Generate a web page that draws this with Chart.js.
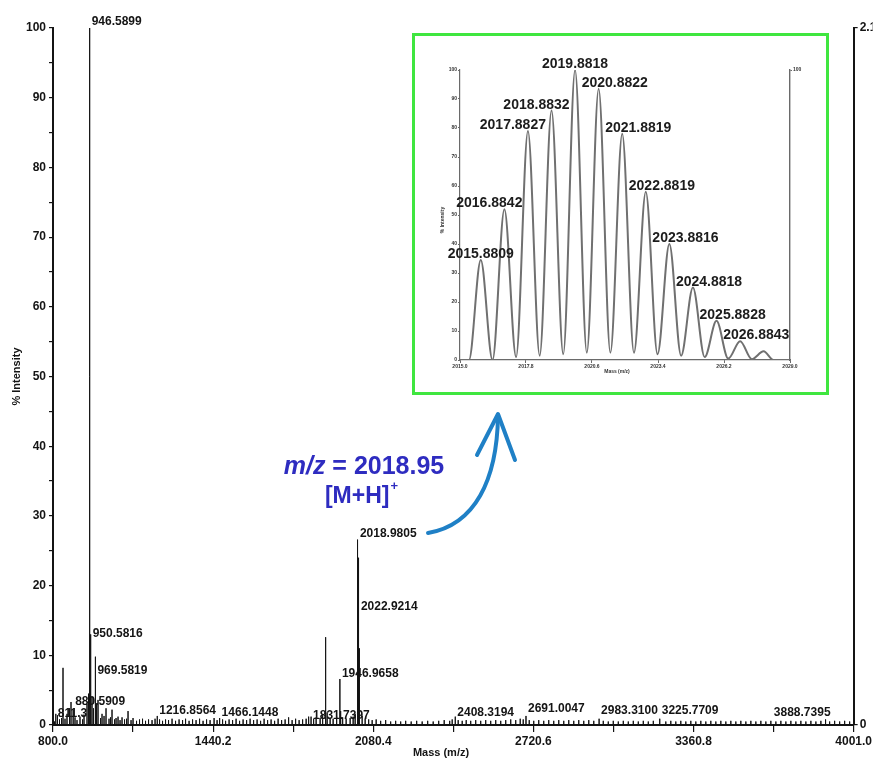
<!DOCTYPE html>
<html>
<head>
<meta charset="utf-8">
<style>
html,body{margin:0;padding:0;background:#fff;}
#wrap{position:relative;width:874px;height:761px;overflow:hidden;background:#fff;}
#main{position:absolute;left:0;top:0;}
#box{position:absolute;left:412px;top:33px;width:417px;height:362px;box-sizing:border-box;border:3px solid #3fe63f;background:#fff;}
#inset{position:absolute;left:0;top:0;}
</style>
<script src="https://cdn.jsdelivr.net/npm/chart.js@4/dist/chart.umd.min.js"></script>
</head>
<body>
<div id="wrap">
  <canvas id="main" width="874" height="761"></canvas>
  <div id="box"><canvas id="inset" width="411" height="356"></canvas></div>
</div>
<script>
// ---------------- DATA ----------------
const mainXTicks = [800.0, 1440.2, 2080.4, 2720.6, 3360.8, 4001.0];
const mainXMinorTicks = [1120.1, 1760.3, 2400.5, 3040.7, 3680.9];
const mainYTicks = [0, 10, 20, 30, 40, 50, 60, 70, 80, 90, 100];
const mainYMinorTicks = [5, 15, 25, 35, 45, 55, 65, 75, 85, 95];
const rightAxisLabels = ['0', '2.1E+4'];

// [m/z, % intensity]
const majorPeaks = [
  [811.3,1.6],[840,8.2],[872,3.3],[880.59,2.2],[936,3.0],[942,4.5],[946.59,100],[950.58,13],
  [956,4.0],[962,2.4],[969.58,9.8],[974,3.0],[980,3.6],[996,1.6],[1012,2.4],[1036,2.2],
  [1060,1.2],[1100,2.0],[1216.86,1.3],[1466.14,1.0],[1831.74,1.2],[1890,12.6],[1896,1.8],
  [1946.97,6.6],[1950,2.0],[2015.9,9],[2016.9,14],[2017.9,21],[2018.98,26.6],[2019.9,24],
  [2020.9,22],[2021.9,19],[2022.92,16],[2023.9,11],[2024.9,7],[2025.9,3.5],
  [2408.32,1.2],[2691.0,1.3],[2983.31,0.9],[3225.77,0.9],[3888.74,0.8]
];
const noisePeaks = [
  [806,0.5],[818,1.4],[826,0.8],[834,1.0],[848,0.9],[856,1.6],[866,2.4],[888,1.1],[896,0.7],[908,1.2],[918,0.8],[924,1.5],
  [990,1.0],[1004,1.3],[1024,0.9],[1030,1.1],[1046,0.8],[1052,1.0],[1068,0.7],[1076,1.1],[1086,0.8],[1094,0.9],[1112,0.7],
  [1120,1.0],[1134,0.6],[1146,0.8],[1158,0.9],[1170,0.6],[1182,0.8],[1196,0.7],[1208,0.9],[1226,0.8],[1238,0.6],[1250,0.8],
  [1262,0.7],[1276,0.9],[1290,0.6],[1304,0.8],[1318,0.7],[1330,0.9],[1344,0.6],[1358,0.8],[1372,0.7],[1386,0.9],[1400,0.6],
  [1414,0.8],[1428,0.7],[1444,1.0],[1456,0.7],[1478,0.8],[1490,0.6],[1504,0.8],[1518,0.7],[1532,0.9],[1546,0.6],[1560,0.8],
  [1574,0.7],[1588,0.9],[1602,0.7],[1616,0.8],[1630,0.6],[1644,0.9],[1658,0.7],[1672,0.8],[1686,0.6],[1700,0.9],[1714,0.7],
  [1728,0.8],[1742,1.1],[1756,0.7],[1770,0.9],[1784,0.7],[1798,0.8],[1812,0.9],[1822,1.2],[1842,0.9],[1852,1.1],[1868,1.0],
  [1878,1.4],[1908,1.0],[1920,0.9],[1934,1.2],[1958,1.1],[1972,0.9],[1988,1.0],[2000,1.2],[2008,1.6],[2036,1.3],[2048,0.9],
  [2062,0.8],[2076,0.7],[2092,0.8],[2110,0.6],[2130,0.7],[2150,0.5],[2170,0.6],[2190,0.5],[2210,0.6],[2232,0.5],[2254,0.6],
  [2276,0.5],[2298,0.6],[2320,0.5],[2342,0.6],[2364,0.7],[2386,0.6],[2396,0.8],[2420,0.7],[2436,0.6],[2452,0.7],[2470,0.6],
  [2490,0.7],[2510,0.6],[2530,0.7],[2550,0.6],[2570,0.7],[2590,0.6],[2610,0.7],[2630,0.8],[2650,0.7],[2668,0.9],[2680,0.8],
  [2704,0.7],[2722,0.6],[2742,0.7],[2762,0.6],[2782,0.7],[2802,0.6],[2822,0.7],[2842,0.6],[2862,0.7],[2882,0.6],[2902,0.7],
  [2922,0.6],[2942,0.7],[2962,0.6],[3000,0.6],[3020,0.5],[3040,0.6],[3060,0.5],[3080,0.6],[3100,0.5],[3120,0.6],[3140,0.5],
  [3160,0.6],[3180,0.5],[3200,0.6],[3250,0.5],[3270,0.6],[3290,0.5],[3310,0.6],[3330,0.5],[3350,0.6],[3370,0.5],[3390,0.6],
  [3410,0.5],[3430,0.6],[3450,0.5],[3470,0.6],[3490,0.5],[3510,0.6],[3530,0.5],[3550,0.6],[3570,0.5],[3590,0.6],[3610,0.5],
  [3630,0.6],[3650,0.5],[3670,0.6],[3690,0.5],[3710,0.6],[3730,0.5],[3750,0.6],[3770,0.5],[3790,0.6],[3810,0.5],[3830,0.6],
  [3850,0.5],[3870,0.6],[3905,0.5],[3925,0.6],[3945,0.5],[3965,0.6],[3985,0.5]
];

const peakLabelMz    = [946.5899, 950.5816, 969.5819, 880.5909, 811.3, 1216.8564, 1466.1448, 1831.7397, 1946.9658, 2018.9805, 2022.9214, 2408.3194, 2691.0047, 2983.3100, 3225.7709, 3888.7395];
const peakLabelText  = ['946.5899','950.5816','969.5819','880.5909','811.3','1216.8564','1466.1448','1831.7397','1946.9658','2018.9805','2022.9214','2408.3194','2691.0047','2983.3100','3225.7709','3888.7395'];
const peakLabelLevel = [100.9, 13.1, 7.8, 3.4, 1.6, 2.0, 1.7, 1.4, 7.3, 27.4, 17.0, 1.7, 2.4, 2.0, 2.0, 1.7];

// inset (isotope pattern of [M+H]+)
const insetXTicks = [2015.0, 2017.8, 2020.6, 2023.4, 2026.2, 2029.0];
const insetYTicks = [0, 10, 20, 30, 40, 50, 60, 70, 80, 90, 100];
const insetPeakMz  = [2015.8809, 2016.8842, 2017.8827, 2018.8832, 2019.8818, 2020.8822, 2021.8819, 2022.8819, 2023.8816, 2024.8818, 2025.8828, 2026.8843, 2027.88];
const insetPeakInt = [34.5, 52, 79, 86, 100, 93.5, 78, 58, 40, 25, 13.5, 6.5, 3];
const insetValleyMz  = [2015.0, 2015.38, 2016.38, 2017.38, 2018.38, 2019.38, 2020.38, 2021.38, 2022.38, 2023.38, 2024.38, 2025.38, 2026.38, 2027.38, 2028.3, 2029.0];
const insetValleyInt = [0, 0, 0, 1, 1.5, 2, 2.5, 2.5, 2.5, 2, 1.5, 1, 0.5, 0.3, 0, 0];
const insetLabelText = ['2015.8809','2016.8842','2017.8827','2018.8832','2019.8818','2020.8822','2021.8819','2022.8819','2023.8816','2024.8818','2025.8828','2026.8843'];

// ---------------- BUILD ----------------
const FONT = '"Liberation Sans", Arial, sans-serif';
const INK = '#141414';

const sticks = majorPeaks.concat(noisePeaks).sort((a, b) => a[0] - b[0]);
const stickPts = [];
sticks.forEach(p => { stickPts.push({x: p[0], y: 0}, {x: p[0], y: p[1]}, {x: p[0], y: 0}); });

const mainPlugin = {
  id: 'mainDeco',
  afterDatasetsDraw(chart) {
    const {ctx, chartArea} = chart;
    const xs = chart.scales.x, ys = chart.scales.y;
    ctx.save();
    ctx.fillStyle = INK;
    ctx.font = 'bold 12px ' + FONT;
    ctx.textBaseline = 'middle';
    peakLabelMz.forEach((m, i) => {
      const px = xs.getPixelForValue(m), py = ys.getPixelForValue(peakLabelLevel[i]);
      const t = peakLabelText[i];
      const w = ctx.measureText(t).width;
      if (px + w > chartArea.right - 25) { ctx.textAlign = 'right'; ctx.fillText(t, px + 5, py); }
      else { ctx.textAlign = 'left'; ctx.fillText(t, px + 2, py); }
    });
    // x-axis title
    ctx.font = 'bold 11px ' + FONT;
    ctx.textAlign = 'center';
    ctx.fillText('Mass (m/z)', 441, 753);

    // annotation text
    ctx.fillStyle = '#2e2cc0';
    ctx.textAlign = 'left';
    ctx.font = 'italic bold 25px ' + FONT;
    const w1 = ctx.measureText('m/z').width;
    ctx.font = 'bold 25px ' + FONT;
    const w2 = ctx.measureText(' = 2018.95').width;
    let sx = 364 - (w1 + w2) / 2;
    ctx.font = 'italic bold 25px ' + FONT;
    ctx.fillText('m/z', sx, 467);
    ctx.font = 'bold 25px ' + FONT;
    ctx.fillText(' = 2018.95', sx + w1, 467);
    ctx.font = 'bold 23px ' + FONT;
    const w3 = ctx.measureText('[M+H]').width;
    ctx.font = 'bold 13px ' + FONT;
    const w4 = ctx.measureText('+').width;
    sx = 361 - (w3 + w4) / 2;
    ctx.font = 'bold 23px ' + FONT;
    ctx.fillText('[M+H]', sx, 497);
    ctx.font = 'bold 13px ' + FONT;
    ctx.fillText('+', sx + w3 + 1, 486);

    // arrow
    ctx.strokeStyle = '#1f80c6';
    ctx.lineWidth = 4;
    ctx.lineCap = 'round';
    ctx.lineJoin = 'round';
    ctx.beginPath();
    ctx.moveTo(428, 533);
    ctx.bezierCurveTo(475, 525, 497, 480, 498, 416);
    ctx.stroke();
    ctx.beginPath();
    ctx.moveTo(477, 455);
    ctx.lineTo(498, 414);
    ctx.lineTo(515, 460);
    ctx.stroke();
    ctx.restore();
  }
};

new Chart(document.getElementById('main'), {
  type: 'line',
  data: { datasets: [{ data: stickPts, borderColor: INK, borderWidth: 1, pointRadius: 0, tension: 0, fill: false }] },
  options: {
    responsive: false, animation: false, devicePixelRatio: 1,
    layout: { padding: { top: 28, left: 0, right: 0, bottom: 0 } },
    plugins: { legend: { display: false }, tooltip: { enabled: false } },
    scales: {
      x: {
        type: 'linear', min: 800, max: 4001,
        afterBuildTicks: s => { s.ticks = mainXTicks.concat(mainXMinorTicks).sort((a, b) => a - b).map(v => ({ value: v })); },
        afterFit: s => { s.height = 36; },
        ticks: { autoSkip: false, maxRotation: 0, padding: 2, color: INK, font: { family: FONT, size: 12, weight: 'bold' },
                 callback: v => mainXTicks.includes(v) ? v.toFixed(1) : '' },
        grid: { drawOnChartArea: false, drawTicks: true, tickLength: 7, color: INK, lineWidth: 1.2 },
        border: { display: true, color: INK, width: 2 }
      },
      y: {
        position: 'left', min: 0, max: 100,
        afterBuildTicks: s => { s.ticks = mainYTicks.concat(mainYMinorTicks).sort((a, b) => a - b).map(v => ({ value: v })); },
        afterFit: s => { s.width = 53; },
        ticks: { autoSkip: false, padding: 3, color: INK, font: { family: FONT, size: 12, weight: 'bold' },
                 callback: v => mainYTicks.includes(v) ? String(v) : '' },
        grid: { drawOnChartArea: false, drawTicks: true, tickLength: 4, color: INK, lineWidth: 1.2 },
        border: { display: true, color: INK, width: 2 },
        title: { display: true, text: '% Intensity', color: INK, font: { family: FONT, size: 11, weight: 'bold' }, padding: { top: 10, bottom: 0 } }
      },
      y2: {
        position: 'right', min: 0, max: 100,
        afterBuildTicks: s => { s.ticks = [{ value: 0 }, { value: 100 }]; },
        afterFit: s => { s.width = 19; },
        ticks: { autoSkip: false, padding: 2, color: INK, font: { family: FONT, size: 12, weight: 'bold' },
                 callback: (v, i) => rightAxisLabels[i] },
        grid: { drawOnChartArea: false, drawTicks: true, tickLength: 4, color: INK, lineWidth: 1.2 },
        border: { display: true, color: INK, width: 2 }
      }
    }
  },
  plugins: [mainPlugin]
});

// ---------------- INSET ----------------
const insetPts = [];
insetPeakMz.forEach((m, i) => insetPts.push({ x: m, y: insetPeakInt[i] }));
insetValleyMz.forEach((m, i) => insetPts.push({ x: m, y: insetValleyInt[i] }));
insetPts.sort((a, b) => a.x - b.x);

const GRAY = '#6a6a6a';
const insetPlugin = {
  id: 'insetDeco',
  afterDatasetsDraw(chart) {
    const {ctx} = chart;
    const xs = chart.scales.x, ys = chart.scales.y;
    const maxIdx = insetPeakInt.indexOf(Math.max(...insetPeakInt));
    ctx.save();
    ctx.fillStyle = '#1c1c1c';
    ctx.font = 'bold 14px ' + FONT;
    ctx.textBaseline = 'alphabetic';
    insetLabelText.forEach((t, i) => {
      const px = xs.getPixelForValue(insetPeakMz[i]);
      const py = ys.getPixelForValue(insetPeakInt[i]) - 2;
      if (i === 0 || i === maxIdx) { ctx.textAlign = 'center'; ctx.fillText(t, px, py); }
      else if (i < maxIdx) { ctx.textAlign = 'right'; ctx.fillText(t, px + 18, py); }
      else { ctx.textAlign = 'left'; ctx.fillText(t, px - 17, py); }
    });
    // tiny axis titles
    ctx.fillStyle = '#333';
    ctx.font = 'bold 5px ' + FONT;
    ctx.textAlign = 'center';
    ctx.textBaseline = 'middle';
    ctx.fillText('Mass (m/z)', 202, 336);
    ctx.translate(28, 184);
    ctx.rotate(-Math.PI / 2);
    ctx.fillText('% Intensity', 0, 0);
    ctx.restore();
  }
};

new Chart(document.getElementById('inset'), {
  type: 'line',
  data: { datasets: [{ data: insetPts, borderColor: '#707070', borderWidth: 2, pointRadius: 0, cubicInterpolationMode: 'monotone', fill: false }] },
  options: {
    responsive: false, animation: false, devicePixelRatio: 1,
    layout: { padding: { top: 34, left: 0, right: 0, bottom: 0 } },
    plugins: { legend: { display: false }, tooltip: { enabled: false } },
    scales: {
      x: {
        type: 'linear', min: 2015.0, max: 2029.0,
        afterBuildTicks: s => { s.ticks = insetXTicks.map(v => ({ value: v })); },
        afterFit: s => { s.height = 32; },
        ticks: { autoSkip: false, maxRotation: 0, padding: 1, color: '#333', font: { family: FONT, size: 5, weight: 'bold' }, callback: v => v.toFixed(1) },
        grid: { drawOnChartArea: false, drawTicks: true, tickLength: 3, color: GRAY },
        border: { display: true, color: GRAY, width: 1.2 }
      },
      y: {
        position: 'left', min: 0, max: 100,
        afterBuildTicks: s => { s.ticks = insetYTicks.map(v => ({ value: v })); },
        afterFit: s => { s.width = 45; },
        ticks: { autoSkip: false, padding: 1, color: '#333', font: { family: FONT, size: 5, weight: 'bold' }, callback: v => String(v) },
        grid: { drawOnChartArea: false, drawTicks: true, tickLength: 2, color: GRAY },
        border: { display: true, color: GRAY, width: 1.2 }
      },
      y2: {
        position: 'right', min: 0, max: 100,
        afterBuildTicks: s => { s.ticks = [{ value: 100 }]; },
        afterFit: s => { s.width = 36; },
        ticks: { autoSkip: false, padding: 1, color: '#333', font: { family: FONT, size: 5, weight: 'bold' }, callback: () => '100' },
        grid: { drawOnChartArea: false, drawTicks: true, tickLength: 2, color: GRAY },
        border: { display: true, color: GRAY, width: 1.4 }
      }
    }
  },
  plugins: [insetPlugin]
});
</script>
</body>
</html>
